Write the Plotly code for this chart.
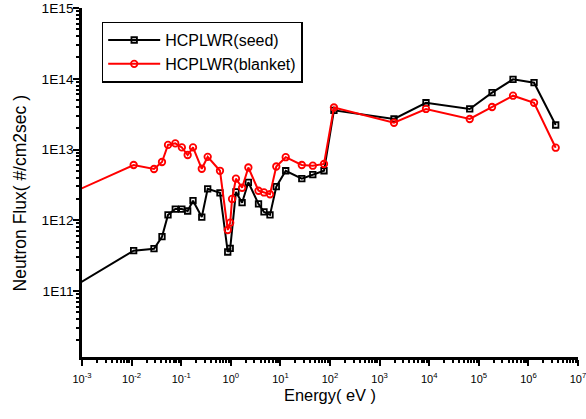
import plotly.graph_objects as go

# Energy (eV) and flux (#/cm2sec)
seed_energy = [1e-4, 0.0110, 0.0283, 0.0410, 0.0542, 0.0760, 0.103, 0.135, 0.173, 0.260,
               0.342, 0.605, 0.867, 0.973, 1.27, 1.69, 2.26, 3.62, 4.67, 6.17, 8.26,
               12.8, 27.0, 45.0, 75.7, 120, 1950, 8610, 65600, 1.85e5, 4.90e5, 1.30e6, 3.55e6]
seed_flux = [5.15e10, 3.72e11, 3.96e11, 5.85e11, 1.19e12, 1.44e12, 1.44e12, 1.35e12, 1.89e12, 1.11e12,
             2.78e12, 2.44e12, 3.56e11, 3.99e11, 2.51e12, 1.77e12, 3.44e12, 1.70e12, 1.31e12, 1.19e12, 2.98e12,
             5.01e12, 3.87e12, 4.40e12, 5.01e12, 3.58e13, 2.70e13, 4.58e13, 3.74e13, 6.35e13, 9.82e13, 8.79e13, 2.22e13]

blanket_energy = [1e-4, 0.0110, 0.0283, 0.0410, 0.0542, 0.0760, 0.103, 0.135, 0.173, 0.260,
                  0.342, 0.605, 0.867, 0.973, 1.06, 1.27, 1.69, 2.26, 3.62, 4.67, 6.17, 8.26,
                  12.8, 27.0, 45.0, 75.7, 120, 1950, 8610, 65600, 1.85e5, 4.90e5, 1.30e6, 3.55e6]
blanket_flux = [1.37e12, 6.04e12, 5.30e12, 6.66e12, 1.16e13, 1.22e13, 1.07e13, 8.36e12, 1.07e13, 5.34e12,
                7.88e12, 5.00e12, 7.28e11, 9.23e11, 2.00e12, 3.87e12, 2.88e12, 5.57e12, 2.61e12, 2.47e12, 2.33e12, 5.75e12,
                7.78e12, 6.04e12, 5.90e12, 6.24e12, 3.92e13, 2.39e13, 3.74e13, 2.70e13, 3.99e13, 5.76e13, 4.58e13, 1.06e13]

x_tickvals = [1e-3, 1e-2, 1e-1, 1e0, 1e1, 1e2, 1e3, 1e4, 1e5, 1e6, 1e7]
x_ticktext = ["10<sup>-3</sup>", "10<sup>-2</sup>", "10<sup>-1</sup>", "10<sup>0</sup>", "10<sup>1</sup>",
              "10<sup>2</sup>", "10<sup>3</sup>", "10<sup>4</sup>", "10<sup>5</sup>", "10<sup>6</sup>", "10<sup>7</sup>"]
y_tickvals = [1e11, 1e12, 1e13, 1e14, 1e15]
y_ticktext = ["1E11", "1E12", "1E13", "1E14", "1E15"]
x_title = "Energy( eV )"
y_title = "Neutron Flux( #/cm2sec )"

FONT = "Liberation Sans, Arial, sans-serif"

fig = go.Figure()
fig.add_trace(go.Scatter(
    x=seed_energy, y=seed_flux, mode="lines+markers", name="HCPLWR(seed)",
    line=dict(color="black", width=2),
    marker=dict(symbol="square-open", size=5.5, color="black", line=dict(width=1.8, color="black")),
    cliponaxis=True,
))
fig.add_trace(go.Scatter(
    x=blanket_energy, y=blanket_flux, mode="lines+markers", name="HCPLWR(blanket)",
    line=dict(color="red", width=2),
    marker=dict(symbol="circle-open", size=6.5, color="red", line=dict(width=1.8, color="red")),
    cliponaxis=True,
))

fig.update_layout(
    width=586, height=419,
    margin=dict(l=82, r=8, t=8, b=62, autoexpand=False),
    paper_bgcolor="white", plot_bgcolor="white",
    font=dict(family=FONT, color="black"),
    showlegend=True,
    legend=dict(
        x=0.0397, y=0.961, xanchor="left", yanchor="top",
        bordercolor="black", borderwidth=1.5, bgcolor="white",
        font=dict(family=FONT, size=16, color="black"),
        tracegroupgap=0, itemwidth=52,
    ),
    xaxis=dict(
        type="log", range=[-3, 7], automargin=False,
        showline=True, linecolor="black", linewidth=2.5, mirror=False,
        showgrid=False, zeroline=False,
        ticks="outside", ticklen=6, tickwidth=2, tickcolor="black",
        tickvals=x_tickvals, ticktext=x_ticktext, ticklabelstandoff=4,
        ticklabeloverflow="allow",
        tickfont=dict(family=FONT, size=11, color="black"),
        minor=dict(ticks="outside", ticklen=3.5, tickwidth=1.5, tickcolor="black", dtick="D1", showgrid=False),
        title=dict(text=x_title, font=dict(family=FONT, size=16.4, color="black"), standoff=6),
    ),
    yaxis=dict(
        type="log", range=[10.067, 15.0], automargin=False,
        showline=True, linecolor="black", linewidth=2.5, mirror=False,
        showgrid=False, zeroline=False,
        ticks="outside", ticklen=6, tickwidth=2, tickcolor="black",
        tickvals=y_tickvals, ticktext=y_ticktext, ticklabelstandoff=-3,
        ticklabeloverflow="allow",
        tickfont=dict(family=FONT, size=13.7, color="black"),
        minor=dict(ticks="outside", ticklen=3.5, tickwidth=1.5, tickcolor="black", dtick="D1", showgrid=False),
    ),
    annotations=[dict(
        text=y_title, textangle=-90, showarrow=False,
        xref="paper", yref="paper", x=-0.125, y=0.4685, xanchor="center", yanchor="middle",
        font=dict(family=FONT, size=17.5, color="black"),
    )],
)

fig.write_html("out.html", config={"displayModeBar": False},
               post_script="document.body.style.margin='0';")
